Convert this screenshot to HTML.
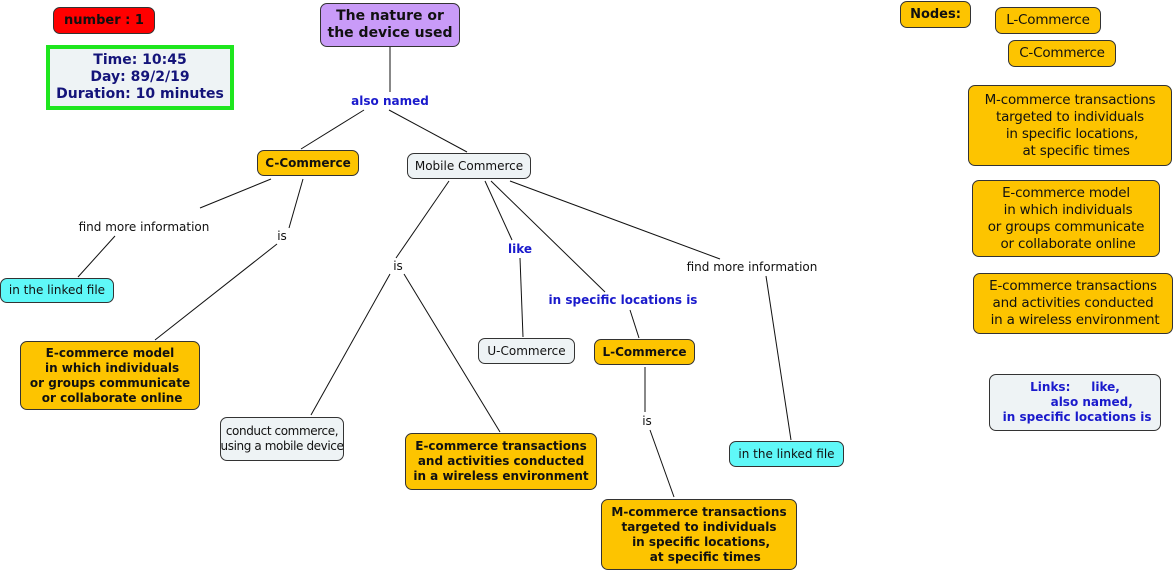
<!DOCTYPE html>
<html><head><meta charset="utf-8"><style>
body{margin:0;width:1175px;height:573px;background:#fff;position:relative;overflow:hidden;font-family:"DejaVu Sans","Liberation Sans",sans-serif;}
.b{position:absolute;box-sizing:border-box;border:1px solid #333;border-radius:7px;display:flex;align-items:center;justify-content:center;text-align:center;font-size:12px;line-height:15px;color:#111;white-space:pre;}
.y{background:#fdc400;}
.g{background:#eef3f5;}
.c{background:#5ff8f8;}
.bd{font-weight:bold;}
.l{position:absolute;font-size:12px;color:#111;white-space:pre;transform:translate(-50%,-50%);background:#fff;line-height:14px;}
.bl{color:#1a1acc;font-weight:bold;}
.r{font-size:13.5px;line-height:17px;letter-spacing:-0.2px;}
svg{position:absolute;left:0;top:0;}
</style></head><body>
<svg width="1175" height="573"><g stroke="#111" stroke-width="1" fill="none">
<line x1="390" y1="47" x2="390" y2="92"/>
<line x1="364" y1="110" x2="301" y2="149"/>
<line x1="389" y1="110" x2="467" y2="152"/>
<line x1="271" y1="179" x2="200" y2="208"/>
<line x1="115" y1="236" x2="78" y2="277"/>
<line x1="303" y1="179" x2="289" y2="228"/>
<line x1="277" y1="244" x2="155" y2="340"/>
<line x1="449" y1="181" x2="396" y2="258"/>
<line x1="390" y1="274" x2="311" y2="415"/>
<line x1="404" y1="274" x2="500" y2="432"/>
<line x1="485" y1="181" x2="512" y2="240"/>
<line x1="520" y1="258" x2="523" y2="337"/>
<line x1="491" y1="181" x2="605" y2="292"/>
<line x1="630" y1="310" x2="639" y2="338"/>
<line x1="510" y1="181" x2="720" y2="259"/>
<line x1="766" y1="276" x2="791" y2="440"/>
<line x1="645" y1="367" x2="645" y2="412"/>
<line x1="650" y1="430" x2="674" y2="497"/>
</g></svg>

<div class="b bd" style="left:53px;top:7px;width:102px;height:27px;background:#f00;font-size:13px;">number : 1</div>
<div class="b bd" style="left:46px;top:45px;width:188px;height:65px;background:#eef3f5;border:4px solid #1ee61e;border-radius:0;color:#14147a;font-size:14px;line-height:17px;">Time: 10:45
Day: 89/2/19
Duration: 10 minutes</div>
<div class="b bd" style="left:320px;top:3px;width:140px;height:44px;background:#c99bf8;font-size:14px;line-height:17px;">The nature or
the device used</div>
<div class="l bl" style="left:390px;top:101px;">also named</div>
<div class="b y bd" style="left:257px;top:150px;width:102px;height:26px;">C-Commerce</div>
<div class="b g" style="left:407px;top:153px;width:124px;height:26px;">Mobile Commerce</div>
<div class="l" style="left:144px;top:227px;">find more information</div>
<div class="l" style="left:282px;top:236px;">is</div>
<div class="b c" style="left:0px;top:278px;width:114px;height:25px;">in the linked file</div>
<div class="b y bd" style="left:20px;top:341px;width:180px;height:69px;">E-commerce model
 in which individuals
or groups communicate
 or collaborate online</div>
<div class="l" style="left:398px;top:266px;">is</div>
<div class="l bl" style="left:520px;top:249px;">like</div>
<div class="l bl" style="left:623px;top:300px;">in specific locations is</div>
<div class="l" style="left:752px;top:267px;">find more information</div>
<div class="b g" style="left:478px;top:338px;width:97px;height:26px;">U-Commerce</div>
<div class="b y bd" style="left:594px;top:339px;width:101px;height:26px;">L-Commerce</div>
<div class="b g" style="left:220px;top:417px;width:124px;height:44px;letter-spacing:-0.4px;">conduct commerce,
using a mobile device</div>
<div class="b y bd" style="left:405px;top:433px;width:192px;height:57px;">E-commerce transactions
and activities conducted
in a wireless environment</div>
<div class="l" style="left:647px;top:421px;">is</div>
<div class="b y bd" style="left:601px;top:499px;width:196px;height:71px;">M-commerce transactions
targeted to individuals
 in specific locations,
   at specific times</div>
<div class="b c" style="left:729px;top:441px;width:115px;height:26px;">in the linked file</div>

<div class="b y bd" style="left:900px;top:1px;width:71px;height:27px;font-size:13px;">Nodes:</div>
<div class="b y r" style="left:995px;top:7px;width:106px;height:27px;">L-Commerce</div>
<div class="b y r" style="left:1008px;top:40px;width:108px;height:27px;">C-Commerce</div>
<div class="b y r" style="left:968px;top:85px;width:204px;height:81px;">M-commerce transactions
targeted to individuals
 in specific locations,
   at specific times</div>
<div class="b y r" style="left:972px;top:180px;width:188px;height:77px;">E-commerce model
 in which individuals
or groups communicate
 or collaborate online</div>
<div class="b y r" style="left:973px;top:273px;width:200px;height:61px;">E-commerce transactions
and activities conducted
 in a wireless environment</div>
<div class="b g bd" style="left:989px;top:374px;width:172px;height:57px;color:#1a1acc;">Links:     like,
        also named,
 in specific locations is</div>
</body></html>
